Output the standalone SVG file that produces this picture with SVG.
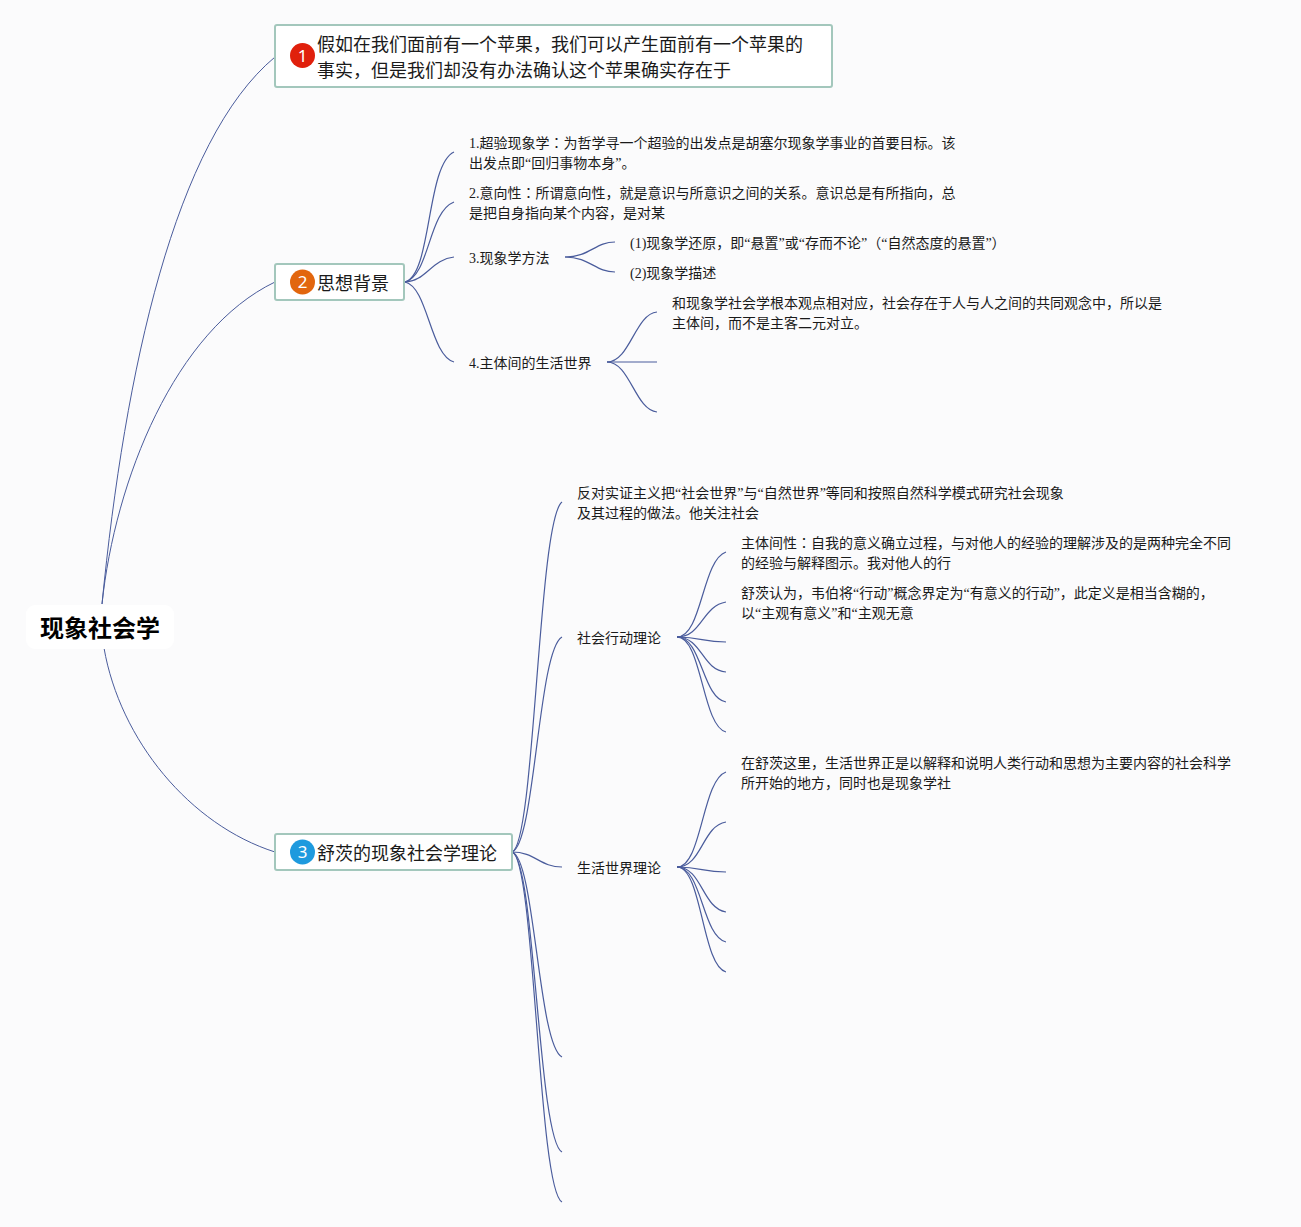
<svg xmlns="http://www.w3.org/2000/svg" width="1301" height="1227" viewBox="0 0 1301 1227">
<style>
text{font-family:"Liberation Serif","Noto Sans CJK SC",serif;fill:#1a1a1a;text-spacing-trim:space-all}
.d{font-size:14px}
.c{font-family:"Noto Sans CJK TC",sans-serif}
.t{font-family:"Noto Sans CJK SC",sans-serif;font-size:18px}
.r{font-family:"Noto Sans CJK SC",sans-serif;font-size:24px;font-weight:700;fill:#000}
.b{fill:#fff;stroke:#a3c7bc;stroke-width:2}
.n{font-family:"Noto Sans",sans-serif;font-size:17px;fill:#fff;text-anchor:middle}
#connectors path{fill:none;stroke:#4a5c9c;stroke-width:1.2}
#connectors path.m{stroke-width:1}
</style>
<rect width="1301" height="1227" fill="#fbfbfc"/>
<g id="connectors">
<path class="m" d="M102 604C125 370 175 140 275 57"/>
<path class="m" d="M102 604C115 480 175 330 275 282"/>
<path class="m" d="M104 648C120 740 190 825 275 852"/>
<path d="M405 282C432 275 426 165 454 152"/>
<path d="M405 282C430 275 428 212 454 202"/>
<path d="M405 282C425 282 432 259 454 257"/>
<path d="M405 282C428 287 430 355 454 362"/>
<path d="M565 257C590 257 595 242 615 242"/>
<path d="M565 257C590 257 595 272 615 272"/>
<path d="M607 362C630 362 635 314 657 312"/>
<path d="M607 362H657"/>
<path d="M607 362C630 362 635 410 657 412"/>
<path d="M512 852C535 845 538 520 562 502"/>
<path d="M512 852C535 845 538 650 562 637"/>
<path d="M512 852C535 852 540 867 562 867"/>
<path d="M512 852C535 858 538 1045 562 1057"/>
<path d="M512 852C535 858 538 1140 562 1152"/>
<path d="M512 852C535 858 538 1190 562 1202"/>
<path d="M677 637C702 637 702 560 726 552"/>
<path d="M677 637C702 637 702 606 726 602"/>
<path d="M677 637C702 637 702 642 726 642"/>
<path d="M677 637C702 637 702 670 726 672"/>
<path d="M677 637C702 637 702 698 726 702"/>
<path d="M677 637C702 637 702 726 726 732"/>
<path d="M677 867C702 867 702 780 726 772"/>
<path d="M677 867C702 867 702 826 726 822"/>
<path d="M677 867C702 867 702 872 726 872"/>
<path d="M677 867C702 867 702 908 726 912"/>
<path d="M677 867C702 867 702 936 726 942"/>
<path d="M677 867C702 867 702 966 726 972"/>
</g>
<g id="root"><rect x="26" y="605" width="148" height="44" rx="9" fill="#fff"/><text class="r" x="40" y="637">现象社会学</text></g>
<g id="n1"><rect class="b" x="275" y="25" width="557" height="62" rx="2"/><circle cx="302.500" cy="55.500" r="12.500" fill="#e0200c"/><text class="n" x="302.500" y="61.500">1</text><text class="t" x="317" y="51">假如在我们面前有一个苹果，我们可以产生面前有一个苹果的</text><text class="t" x="317" y="77">事实，但是我们却没有办法确认这个苹果确实存在于</text></g>
<g id="n2"><rect class="b" x="275" y="264" width="129" height="36" rx="2"/><circle cx="302.500" cy="282" r="12.500" fill="#e2660e"/><text class="n" x="302.500" y="288">2</text><text class="t" x="317" y="290">思想背景</text></g>
<g id="n3"><rect class="b" x="275" y="834" width="237" height="36" rx="2"/><circle cx="302.500" cy="852" r="12.500" fill="#1e9ade"/><text class="n" x="302.500" y="858">3</text><text class="t" x="317" y="860">舒茨的现象社会学理论</text></g>
<g id="a1"><text class="d" x="469" y="148">1.超验现象学<tspan class="c">：</tspan>为哲学寻一个超验的出发点是胡塞尔现象学事业的首要目标。该</text><text class="d" x="469" y="168">出发点即“回归事物本身”。</text></g>
<g id="a2"><text class="d" x="469" y="198">2.意向性<tspan class="c">：</tspan>所谓意向性，就是意识与所意识之间的关系。意识总是有所指向，总</text><text class="d" x="469" y="218">是把自身指向某个内容，是对某</text></g>
<g id="a3"><text class="d" x="469" y="263">3.现象学方法</text></g>
<g id="a31"><text class="d" x="630" y="248">(1)现象学还原，即“悬置”或“存而不论”（“自然态度的悬置”）</text></g>
<g id="a32"><text class="d" x="630" y="278">(2)现象学描述</text></g>
<g id="a4"><text class="d" x="469" y="368">4.主体间的生活世界</text></g>
<g id="a41"><text class="d" x="672" y="308">和现象学社会学根本观点相对应，社会存在于人与人之间的共同观念中，所以是</text><text class="d" x="672" y="328">主体间，而不是主客二元对立。</text></g>
<g id="b1"><text class="d" x="577" y="498">反对实证主义把“社会世界”与“自然世界”等同和按照自然科学模式研究社会现象</text><text class="d" x="577" y="518">及其过程的做法。他关注社会</text></g>
<g id="b2"><text class="d" x="577" y="643">社会行动理论</text></g>
<g id="b21"><text class="d" x="741" y="548">主体间性<tspan class="c">：</tspan>自我的意义确立过程，与对他人的经验的理解涉及的是两种完全不同</text><text class="d" x="741" y="568">的经验与解释图示。我对他人的行</text></g>
<g id="b22"><text class="d" x="741" y="598">舒茨认为，韦伯将“行动”概念界定为“有意义的行动”，此定义是相当含糊的，</text><text class="d" x="741" y="618">以“主观有意义”和“主观无意</text></g>
<g id="b3"><text class="d" x="577" y="873">生活世界理论</text></g>
<g id="b31"><text class="d" x="741" y="768">在舒茨这里，生活世界正是以解释和说明人类行动和思想为主要内容的社会科学</text><text class="d" x="741" y="788">所开始的地方，同时也是现象学社</text></g>
</svg>
